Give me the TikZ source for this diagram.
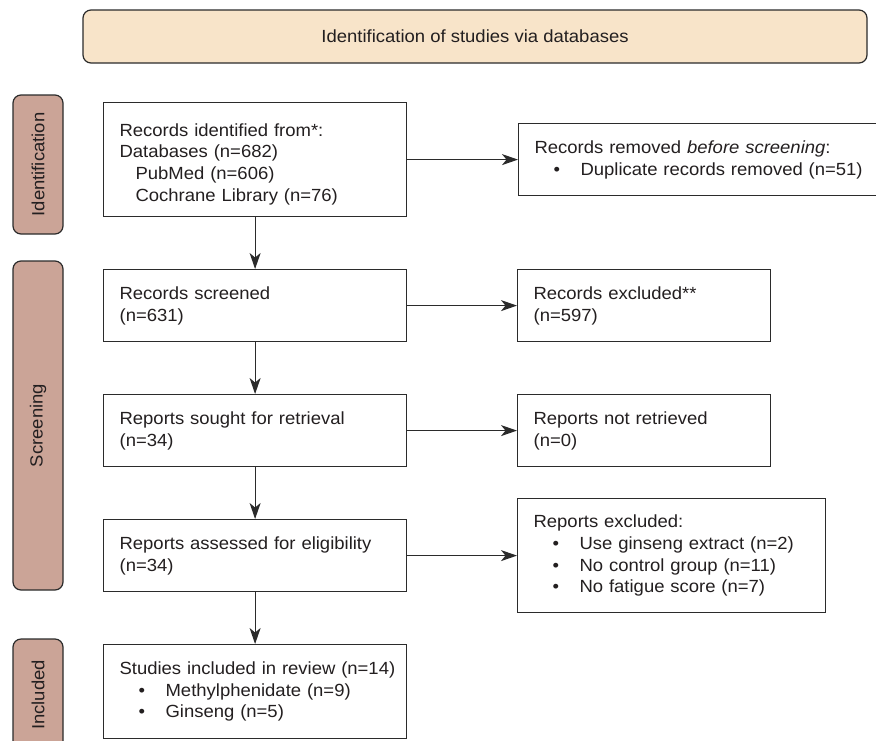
\documentclass[tikz,border=0pt]{standalone}
\usepackage{fontspec}
\setmainfont[FakeStretch=1.05]{Liberation Sans}
\usetikzlibrary{arrows.meta}
\definecolor{banner}{HTML}{F8E4C9}
\definecolor{phasefill}{HTML}{CBA497}
\definecolor{edge}{HTML}{2B2B2B}
\definecolor{ink}{HTML}{231F20}
\tikzset{
  txt/.style={font=\fontsize{17.6}{21.7}\selectfont, text=ink},
  flowbox/.style={txt, draw=edge, line width=1.2pt, fill=white, rectangle, anchor=north west,
    align=left, inner xsep=16pt, inner ysep=0pt},
  phasebox/.style={txt, draw=edge, line width=1.2pt, fill=phasefill, rounded corners=8pt,
    rotate=90, minimum height=50pt, inner sep=0pt},
  flowarrow/.style={draw=edge, line width=1.2pt, -{Stealth[length=16pt,width=11pt,inset=4.5pt]}},
}
\newcommand{\bul}[1]{\hspace*{19pt}\makebox[27pt][l]{\textbullet}#1}
\begin{document}
\begin{tikzpicture}[x=1pt,y=-1pt]
\useasboundingbox (0,0) rectangle (876,740);
\clip (0,0) rectangle (876,740);
% banner
\node[txt, draw=edge, line width=1.2pt, fill=banner, rounded corners=8pt,
  minimum width=784pt, minimum height=53pt] (banner) at (475,36.5) {Identification of studies via databases};
% phases
\node[phasebox, minimum width=139pt] (phid) at (38,164.5) {Identification};
\node[phasebox, minimum width=329pt] (phscr) at (38,425.5) {Screening};
\node[phasebox, minimum width=112pt] (phinc) at (38,695) {Included};
% main column
\node[flowbox, minimum width=303pt, minimum height=114pt, text width=271pt] (ident) at (103,102)
  {\rule{0pt}{22pt}Records identified from*:\\Databases (n=682)\\\hspace*{16pt}PubMed (n=606)\\\hspace*{16pt}Cochrane Library (n=76)};
\node[flowbox, minimum width=303pt, minimum height=72pt, text width=271pt] (screen) at (103,269)
  {Records screened\\(n=631)};
\node[flowbox, minimum width=303pt, minimum height=72pt, text width=271pt] (sought) at (103,394)
  {Reports sought for retrieval\\(n=34)};
\node[flowbox, minimum width=303pt, minimum height=72pt, text width=271pt] (assess) at (103,519)
  {Reports assessed for eligibility\\(n=34)};
\node[flowbox, minimum width=303pt, minimum height=94pt, text width=271pt] (incl) at (103,644)
  {\mbox{Studies included in review (n=14)}\\\bul{Methylphenidate (n=9)}\\\bul{Ginseng (n=5)}};
% right column
\node[flowbox, minimum width=370pt, minimum height=72pt, text width=338pt] (removed) at (518,123)
  {Records removed \textit{before screening}:\\\bul{Duplicate records removed (n=51)}};
\node[flowbox, minimum width=253pt, minimum height=72pt, text width=221pt] (excl) at (517,269)
  {Records excluded**\\(n=597)};
\node[flowbox, minimum width=253pt, minimum height=72pt, text width=221pt] (notret) at (517,394)
  {Reports not retrieved\\(n=0)};
\node[flowbox, minimum width=308pt, minimum height=114pt, text width=276pt] (repexcl) at (517,498)
  {Reports excluded:\\\bul{Use ginseng extract (n=2)}\\\bul{No control group (n=11)}\\\bul{No fatigue score (n=7)}};
% arrows
\draw[flowarrow] (ident.south) -- (screen.north);
\draw[flowarrow] (screen.south) -- (sought.north);
\draw[flowarrow] (sought.south) -- (assess.north);
\draw[flowarrow] (assess.south) -- (incl.north);
\draw[flowarrow] (ident.east) -- (removed.west);
\draw[flowarrow] (screen.east) -- (excl.west);
\draw[flowarrow] (sought.east) -- (notret.west);
\draw[flowarrow] (assess.east) -- (repexcl.west);
\end{tikzpicture}
\end{document}
